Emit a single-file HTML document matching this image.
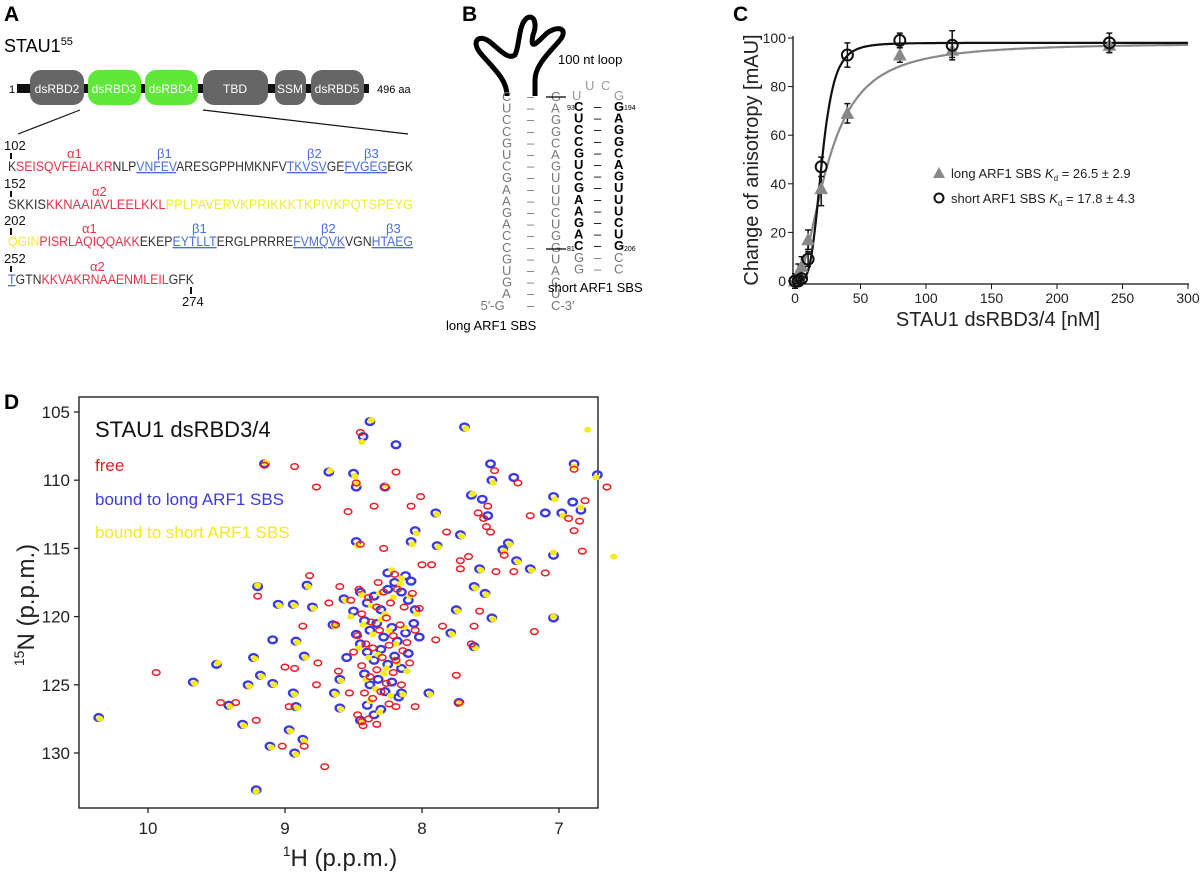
<!DOCTYPE html>
<html><head><meta charset="utf-8"><style>
body{margin:0;background:#fff}
svg{display:block}
text{font-family:"Liberation Sans",sans-serif}
.mono{font-family:"Liberation Mono",monospace}
.ser{font-family:"Liberation Serif",serif}
</style></head><body>
<svg id="fig" width="1200" height="873" viewBox="0 0 1200 873" xmlns="http://www.w3.org/2000/svg">
<!-- Panel A -->
<g>
<text x="4" y="21" font-size="21" font-weight="bold">A</text>
<text x="4" y="52" font-size="18">STAU1<tspan font-size="11" dy="-7">55</tspan></text>
<rect x="17" y="84" width="352" height="9" fill="#111"/>
<text x="9" y="93" font-size="11">1</text>
<text x="377" y="93" font-size="11">496 aa</text>
<g font-size="12" fill="#fff" text-anchor="middle">
<rect x="30" y="70" width="54" height="35" rx="11" fill="#666"/><text x="57" y="93">dsRBD2</text>
<rect x="88" y="70" width="53" height="35" rx="11" fill="#5fe83a"/><text x="114" y="93">dsRBD3</text>
<rect x="145" y="70" width="53" height="35" rx="11" fill="#5fe83a"/><text x="171" y="93">dsRBD4</text>
<rect x="203" y="70" width="65" height="35" rx="11" fill="#666"/><text x="235" y="93">TBD</text>
<rect x="275" y="70" width="31" height="35" rx="10" fill="#666"/><text x="290" y="93">SSM</text>
<rect x="311" y="70" width="53" height="35" rx="11" fill="#666"/><text x="337" y="93">dsRBD5</text>
</g>
<line x1="80" y1="110" x2="18" y2="134" stroke="#111" stroke-width="1.2"/>
<line x1="203" y1="110" x2="408" y2="134" stroke="#111" stroke-width="1.2"/>
<g font-size="13" fill="#111">
<text x="4" y="150">102</text><text x="4" y="188">152</text><text x="4" y="225">202</text><text x="4" y="263">252</text><text x="182" y="306">274</text>
</g>
<g stroke="#111" stroke-width="2"><line x1="11" y1="153" x2="11" y2="159"/><line x1="11" y1="191" x2="11" y2="197"/><line x1="11" y1="228" x2="11" y2="235"/><line x1="11" y1="266" x2="11" y2="272"/><line x1="191" y1="287" x2="191" y2="294"/></g>
<g class="ser" font-size="13">
<text x="67" y="158" fill="#e8334a">α1</text><text x="157" y="158" fill="#4a6ee0">β1</text><text x="307" y="158" fill="#4a6ee0">β2</text><text x="364" y="158" fill="#4a6ee0">β3</text>
<text x="92" y="196" fill="#e8334a">α2</text>
<text x="82" y="233" fill="#e8334a">α1</text><text x="192" y="233" fill="#4a6ee0">β1</text><text x="321" y="233" fill="#4a6ee0">β2</text><text x="386" y="233" fill="#4a6ee0">β3</text>
<text x="90" y="271" fill="#e8334a">α2</text>
</g>
<g class="mono" font-size="13.5" fill="#333">
<text x="8" y="171" textLength="405" lengthAdjust="spacingAndGlyphs">K<tspan fill="#e8334a">SEISQVFEIALKR</tspan>NLP<tspan fill="#4a6ee0" text-decoration="underline">VNFEV</tspan>ARESGPPHMKNFV<tspan fill="#4a6ee0" text-decoration="underline">TKVSV</tspan>GE<tspan fill="#4a6ee0" text-decoration="underline">FVGEG</tspan>EGK</text>
<text x="8" y="209" textLength="405" lengthAdjust="spacingAndGlyphs">SKKIS<tspan fill="#e8334a">KKNAAIAVLEELKKL</tspan><tspan fill="#f2ea3c">PPLPAVERVKPRIKKKTKPIVKPQTSPEYG</tspan></text>
<text x="8" y="246" textLength="405" lengthAdjust="spacingAndGlyphs"><tspan fill="#f2ea3c">QGIN</tspan><tspan fill="#e8334a">PISRLAQIQQAKK</tspan>EKEP<tspan fill="#4a6ee0" text-decoration="underline">EYTLLT</tspan>ERGLPRRRE<tspan fill="#4a6ee0" text-decoration="underline">FVMQVK</tspan>VGN<tspan fill="#4a6ee0" text-decoration="underline">HTAEG</tspan></text>
<text x="8" y="284" textLength="186" lengthAdjust="spacingAndGlyphs"><tspan fill="#4a6ee0" text-decoration="underline">T</tspan>GTN<tspan fill="#e8334a">KKVAKRNAAENMLEIL</tspan>GFK</text>
</g>
</g>
<!-- Panel B -->
<g>
<text x="462" y="21" font-size="21" font-weight="bold">B</text>
<path d="M507,96 C507,80 495,70 482,55 C470,42 478,33 490,42 C500,50 508,60 515,55 C520,45 518,25 527,18 C535,14 537,25 533,35 C530,50 535,45 547,33 C560,24 568,30 560,40 C550,52 535,65 535,80 L535,96" fill="none" stroke="#000" stroke-width="5" stroke-linejoin="round"/>
<text x="558" y="64" font-size="13">100 nt loop</text>
<g id="stemL" class="mono" font-size="13" fill="#777"></g>
<g id="stemS" class="mono" font-size="13"></g>
<g class="mono" font-size="13" fill="#999"><text x="585" y="90">U</text><text x="601" y="90">C</text><text x="572" y="100">U</text><text x="614" y="100">G</text></g>
<line x1="546" y1="97" x2="566" y2="97" stroke="#000" stroke-width="1.2"/>
<line x1="546" y1="249" x2="566" y2="249" stroke="#000" stroke-width="1.2"/>
<g font-size="7" class="mono"><text x="567" y="110">93</text><text x="624" y="110">194</text><text x="567" y="251">81</text><text x="624" y="251">206</text></g>
<text x="548" y="292" font-size="13">short ARF1 SBS</text>
<text x="446" y="330" font-size="13">long ARF1 SBS</text>
</g>
<!-- Panel C -->
<g id="panelC">
<text x="733" y="21" font-size="21" font-weight="bold">C</text>
</g>
<!-- Panel D -->
<g id="panelD">
<text x="4" y="409" font-size="21" font-weight="bold">D</text>
</g>
</svg>
<script>
// ---------- Panel C data ----------
const concLong = [0, 2.5, 5, 10, 20, 40, 80, 120, 240];
const anisoLong = [0, 3, 6, 17, 38, 69, 93, 95, 97];
const errLong = [3, 4, 4, 4, 7, 4, 3, 3, 3];
const concShort = [0, 2.5, 5, 10, 20, 40, 80, 120, 240];
const anisoShort = [0, 0, 1, 9, 47, 93, 99, 97, 98];
const errShort = [2, 2, 2, 3, 4, 5, 3, 6, 4];
const fitLong = [98, 25.4, 1.93];   // max, K, hill
const fitShort = [98, 20.5, 4.3];
const xTicksC = [0, 50, 100, 150, 200, 250, 300];
const yTicksC = [0, 20, 40, 60, 80, 100];
// ---------- Panel D data (ppm) ----------
const hTicks = [10, 9, 8, 7];
const nTicks = [105, 110, 115, 120, 125, 130];
const bluePeaks = [[10.36,127.4],[9.67,124.8],[9.50,123.5],[9.41,126.5],[9.31,127.9],[9.27,125.0],[9.23,123.0],[9.20,117.8],[9.21,132.7],[9.18,124.3],[9.09,124.9],[9.11,129.5],[9.15,108.8],[9.05,119.1],[9.09,121.7],[8.97,128.3],[8.94,119.1],[8.93,130.0],[8.92,126.6],[8.94,125.6],[8.87,129.0],[8.92,121.8],[8.86,122.9],[8.84,117.7],[8.80,119.3],[8.68,109.4],[8.65,120.6],[8.64,125.6],[8.60,126.7],[8.60,124.6],[8.57,118.7],[8.50,109.5],[8.48,110.5],[8.48,114.5],[8.43,106.8],[8.38,105.7],[8.27,110.5],[8.19,107.4],[8.15,125.6],[8.08,114.5],[8.05,113.7],[7.95,125.6],[7.90,112.4],[7.89,114.8],[7.79,121.2],[7.73,126.3],[7.72,114.0],[7.69,106.1],[7.75,119.5],[7.64,111.1],[7.62,122.2],[7.62,117.8],[7.58,116.5],[7.54,118.3],[7.50,108.8],[7.49,120.1],[7.49,110.0],[7.41,115.1],[7.37,114.6],[7.33,109.8],[7.31,115.9],[7.21,116.5],[7.04,115.5],[7.04,120.1],[6.89,108.8],[6.72,109.6],[7.04,111.2],[6.98,112.4],[6.84,112.2],[7.10,112.4],[6.90,111.6],[7.52,112.6],[7.56,111.4],[8.45,118.2],[8.40,119.0],[8.35,118.5],[8.30,119.5],[8.25,118.0],[8.20,117.5],[8.15,118.2],[8.10,118.8],[8.05,119.5],[8.42,120.3],[8.38,121.0],[8.33,120.5],[8.28,121.5],[8.22,120.8],[8.18,121.8],[8.12,121.2],[8.06,120.5],[8.02,121.5],[8.45,122.0],[8.40,122.6],[8.35,123.2],[8.30,122.4],[8.25,123.5],[8.20,122.9],[8.15,123.8],[8.10,122.7],[8.42,124.2],[8.38,125.0],[8.32,124.6],[8.27,125.5],[8.22,124.8],[8.17,125.9],[8.40,126.5],[8.35,127.2],[8.30,126.8],[8.45,127.6],[8.50,119.6],[8.48,121.3],[8.55,123.0],[8.12,117.0],[8.25,116.8],[8.08,117.4]];
const yellowPeaks = [[10.35,127.5],[9.66,124.9],[9.49,123.4],[9.40,126.6],[9.30,128.0],[9.26,125.1],[9.22,123.1],[9.20,117.7],[9.21,132.8],[9.17,124.4],[9.08,125.0],[9.10,129.6],[9.14,108.7],[9.04,119.2],[8.96,128.4],[8.93,119.2],[8.92,130.1],[8.91,126.7],[8.93,125.7],[8.86,129.1],[8.91,121.9],[8.85,123.0],[8.83,117.8],[8.79,119.4],[8.67,109.3],[8.64,120.7],[8.63,125.7],[8.59,126.8],[8.59,124.7],[8.56,118.8],[8.49,109.7],[8.47,110.3],[8.47,114.8],[8.44,107.2],[8.37,105.6],[8.26,110.4],[8.14,125.7],[8.07,114.7],[8.04,113.9],[7.94,125.7],[7.89,112.5],[7.88,114.9],[7.78,121.3],[7.72,126.4],[7.71,114.1],[7.68,106.2],[7.74,119.6],[7.63,111.0],[7.61,122.3],[7.61,117.9],[7.57,116.6],[7.53,118.4],[7.48,120.2],[7.48,110.2],[7.40,115.2],[7.36,114.7],[7.30,116.0],[7.20,116.6],[7.04,115.3],[7.04,120.0],[6.89,109.0],[6.73,109.8],[7.03,111.4],[6.97,112.6],[6.84,112.0],[6.79,106.3],[6.60,115.6],[8.44,118.4],[8.37,119.2],[8.31,118.3],[8.27,119.8],[8.21,118.6],[8.16,117.6],[8.09,118.5],[8.04,119.8],[8.43,120.6],[8.36,121.3],[8.30,120.2],[8.24,121.0],[8.19,122.0],[8.13,120.8],[8.46,122.3],[8.39,123.0],[8.32,122.8],[8.26,123.8],[8.18,123.4],[8.11,124.0],[8.41,124.6],[8.34,125.3],[8.28,124.2],[8.23,125.8],[8.38,126.2],[8.31,127.0],[8.44,127.8],[8.52,120.0],[8.15,117.2],[8.22,116.6]];
const redPeaks = [[9.94,124.1],[9.47,126.3],[9.36,126.3],[9.21,127.6],[9.20,118.5],[9.15,108.9],[9.02,129.5],[8.93,109.0],[8.86,129.5],[9.00,123.7],[8.93,123.8],[8.97,126.6],[8.87,120.7],[8.77,110.5],[8.76,123.4],[8.77,125.0],[8.71,131.0],[8.82,117.0],[8.68,119.0],[8.63,120.6],[8.61,124.0],[8.60,117.8],[8.54,112.3],[8.53,125.6],[8.48,110.2],[8.45,106.5],[8.45,114.7],[8.47,127.2],[8.44,127.7],[8.35,111.9],[8.27,110.5],[8.19,109.4],[8.28,115.0],[8.08,111.9],[8.01,111.2],[8.00,116.2],[7.93,116.2],[7.90,121.7],[7.82,113.8],[7.85,120.7],[7.75,124.3],[7.73,126.3],[7.72,115.9],[7.72,116.5],[7.66,115.6],[7.64,122.0],[7.62,120.7],[7.58,119.6],[7.59,112.4],[7.53,113.4],[7.52,111.9],[7.46,116.7],[7.47,109.3],[7.40,115.5],[7.33,116.7],[7.30,110.2],[7.21,112.6],[7.18,121.1],[7.10,116.8],[6.89,109.2],[6.89,113.7],[6.85,113.0],[6.83,115.2],[6.81,111.5],[6.65,110.5],[8.19,126.6],[8.05,126.6],[7.55,112.8],[7.50,113.8],[6.93,112.8],[8.46,118.0],[8.39,118.6],[8.33,119.3],[8.28,118.2],[8.23,119.0],[8.18,118.0],[8.13,119.3],[8.07,118.3],[8.44,119.8],[8.37,120.4],[8.31,121.0],[8.26,120.1],[8.21,121.4],[8.16,120.6],[8.11,121.9],[8.05,121.0],[8.47,121.4],[8.41,122.0],[8.36,122.3],[8.29,123.0],[8.24,122.1],[8.19,123.2],[8.14,122.5],[8.09,123.4],[8.44,123.6],[8.38,124.4],[8.33,123.9],[8.26,124.9],[8.21,124.1],[8.15,125.0],[8.42,125.6],[8.36,126.0],[8.30,125.5],[8.24,126.4],[8.39,127.5],[8.33,127.9],[8.43,128.0],[8.52,118.8],[8.50,122.6],[8.02,119.4],[8.20,116.9],[8.32,117.5]];
// ---------- Panel B data ----------
const longLeft = ["C","U","C","C","G","U","C","G","A","A","G","A","C","C","G","U","G","A","5′-G"];
const longRight = ["G","A","G","G","C","A","G","U","U","U","C","U","G","G","U","A","C","U","C-3′"];
const shortLeft = ["C","U","C","C","G","U","C","G","A","A","G","A","C","G","G"];
const shortRight = ["G","A","G","G","C","A","G","U","U","U","C","U","G","C","C"];

const NS = "http://www.w3.org/2000/svg";
function mk(tag, attrs, parent) {
  const e = document.createElementNS(NS, tag);
  for (const k in attrs) e.setAttribute(k, attrs[k]);
  parent.appendChild(e);
  return e;
}
// Panel B stems
const stemL = document.getElementById('stemL');
longLeft.forEach((c, i) => {
  const y = 101 + i * 11.6;
  const t = mk('text', {x: c.length > 1 ? 504 - 7.8 * (c.length - 1) : 502, y: y}, stemL);
  t.textContent = c;
  const d = mk('text', {x: 527, y: y}, stemL); d.textContent = "–";
  const r = mk('text', {x: 551, y: y}, stemL); r.textContent = longRight[i];
});
const stemS = document.getElementById('stemS');
shortLeft.forEach((c, i) => {
  const y = 111 + i * 11.6;
  const bold = i < 13;
  const col = bold ? "#000" : "#777";
  const fw = bold ? "bold" : "normal";
  const t = mk('text', {x: 574, y: y, fill: col, 'font-weight': fw}, stemS); t.textContent = c;
  const d = mk('text', {x: 594, y: y, fill: col}, stemS); d.textContent = "–";
  const r = mk('text', {x: 614, y: y, fill: col, 'font-weight': fw}, stemS); r.textContent = shortRight[i];
});

// ---------- Panel C ----------
const pc = document.getElementById('panelC');
const cx = v => 795 + v * 393 / 300;
const cy = v => 281 - v * 2.43;
mk('line', {x1: 793, y1: 36, x2: 793, y2: 284, stroke: '#111', 'stroke-width': 1.3}, pc);
mk('line', {x1: 793, y1: 284, x2: 1189, y2: 284, stroke: '#111', 'stroke-width': 1.3}, pc);
xTicksC.forEach(v => {
  const l = mk('line', {x1: cx(v), y1: 284, x2: cx(v), y2: 289, stroke: '#111'}, pc);
  
  
  const t = mk('text', {x: cx(v), y: 303, 'font-size': 14, 'text-anchor': 'middle', fill: '#222'}, pc);
  
  
  t.textContent = v;
});
yTicksC.forEach(v => {
  mk('line', {x1: 788, y1: cy(v), x2: 793, y2: cy(v), stroke: '#111'}, pc);
  const t = mk('text', {x: 786, y: cy(v) + 5, 'font-size': 14, 'text-anchor': 'end', fill: '#222'}, pc);
  
  
  t.textContent = v;
});
const xt = mk('text', {x: 998, y: 326, 'font-size': 20, 'text-anchor': 'middle', fill: '#222'}, pc);


xt.textContent = "STAU1 dsRBD3/4 [nM]";
const yt = mk('text', {x: 0, y: 0, 'font-size': 20, 'text-anchor': 'middle', fill: '#222', transform: 'translate(758,160) rotate(-90)'}, pc);


yt.textContent = "Change of anisotropy [mAU]";
function fitPath(p) {
  let d = "";
  for (let x = 0; x <= 300; x += 1) {
    const y = p[0] * Math.pow(x, p[2]) / (Math.pow(p[1], p[2]) + Math.pow(x, p[2]));
    d += (x === 0 ? "M" : "L") + cx(x).toFixed(1) + "," + cy(y).toFixed(1);
  }
  return d;
}
const fl = mk('path', {d: fitPath(fitLong), fill: 'none', stroke: '#888', 'stroke-width': 2.2}, pc);


const fs = mk('path', {d: fitPath(fitShort), fill: 'none', stroke: '#111', 'stroke-width': 2.2}, pc);


function errBar(x, y, e, col) {
  mk('line', {x1: cx(x), y1: cy(y - e), x2: cx(x), y2: cy(y + e), stroke: col, 'stroke-width': 1.5}, pc);
  mk('line', {x1: cx(x) - 3, y1: cy(y - e), x2: cx(x) + 3, y2: cy(y - e), stroke: col, 'stroke-width': 1.5}, pc);
  mk('line', {x1: cx(x) - 3, y1: cy(y + e), x2: cx(x) + 3, y2: cy(y + e), stroke: col, 'stroke-width': 1.5}, pc);
}
concLong.forEach((x, i) => {
  errBar(x, anisoLong[i], errLong[i], '#111');
  const X = cx(x), Y = cy(anisoLong[i]);
  const p = mk('path', {d: `M${X},${Y - 6}L${X + 6},${Y + 5}L${X - 6},${Y + 5}Z`, fill: '#888', stroke: '#888'}, pc);
  
  
});
concShort.forEach((x, i) => {
  errBar(x, anisoShort[i], errShort[i], '#111');
  const c = mk('circle', {cx: cx(x), cy: cy(anisoShort[i]), r: 5.5, fill: 'none', stroke: '#111', 'stroke-width': 2}, pc);
  
  
});
mk('path', {d: 'M939,167L945,178L933,178Z', fill: '#888'}, pc);
const l1 = mk('text', {x: 951, y: 178, 'font-size': 13, fill: '#222'}, pc);


l1.innerHTML = 'long ARF1 SBS <tspan font-style="italic">K</tspan><tspan font-size="8" dy="3">d</tspan><tspan dy="-3"> = 26.5 ± 2.9</tspan>';
mk('circle', {cx: 939, cy: 198, r: 4.5, fill: 'none', stroke: '#111', 'stroke-width': 2}, pc);
const l2 = mk('text', {x: 951, y: 203, 'font-size': 13, fill: '#222'}, pc);


l2.innerHTML = 'short ARF1 SBS <tspan font-style="italic">K</tspan><tspan font-size="8" dy="3">d</tspan><tspan dy="-3"> = 17.8 ± 4.3</tspan>';

// ---------- Panel D ----------
const pd = document.getElementById('panelD');
const hx = v => 148 + (10 - v) * 137;
const ny = v => 412 + (v - 105) * 13.64;
const frame = mk('rect', {x: 79, y: 397, width: 519, height: 411, fill: 'none', stroke: '#222', 'stroke-width': 1.4}, pd);


const peaks = mk('g', {}, pd);
bluePeaks.forEach(p => {
  const e = mk('ellipse', {cx: hx(p[0]), cy: ny(p[1]), rx: 4.2, ry: 3.4, fill: 'none', stroke: '#3a3ae0', 'stroke-width': 2.4}, peaks);
  
  
});
yellowPeaks.forEach(p => {
  const e = mk('ellipse', {cx: hx(p[0]), cy: ny(p[1]), rx: 3.6, ry: 3, fill: '#f5ea1c'}, peaks);
  
  
});
redPeaks.forEach(p => {
  const e = mk('ellipse', {cx: hx(p[0]), cy: ny(p[1]), rx: 3.8, ry: 2.8, fill: 'none', stroke: '#ee1c24', 'stroke-width': 1.5}, peaks);
  
  
});
hTicks.forEach(v => {
  mk('line', {x1: hx(v), y1: 808, x2: hx(v), y2: 813, stroke: '#222', 'stroke-width': 1.3}, pd);
  const t = mk('text', {x: hx(v), y: 834, 'font-size': 17, 'text-anchor': 'middle', fill: '#222'}, pd);
  
  
  t.textContent = v;
});
nTicks.forEach(v => {
  mk('line', {x1: 74, y1: ny(v), x2: 79, y2: ny(v), stroke: '#222', 'stroke-width': 1.3}, pd);
  const t = mk('text', {x: 70, y: ny(v) + 6, 'font-size': 17, 'text-anchor': 'end', fill: '#222'}, pd);
  
  
  t.textContent = v;
});
const hx2 = mk('text', {x: 340, y: 866, 'font-size': 24, 'text-anchor': 'middle', fill: '#222'}, pd);


hx2.innerHTML = '<tspan font-size="14" dy="-10">1</tspan><tspan dy="10">H (p.p.m.)</tspan>';
const ny2 = mk('text', {x: 0, y: 0, 'font-size': 24, 'text-anchor': 'middle', fill: '#222', transform: 'translate(34,605) rotate(-90)'}, pd);


ny2.innerHTML = '<tspan font-size="14" dy="-10">15</tspan><tspan dy="10">N (p.p.m.)</tspan>';
const lg = [["STAU1 dsRBD3/4", "#111", 22, 437], ["free", "#ee1c24", 17, 471], ["bound to long ARF1 SBS", "#3a3ae0", 17, 505], ["bound to short ARF1 SBS", "#f5ea1c", 17, 538]];
lg.forEach(r => {
  const t = mk('text', {x: 95, y: r[3], 'font-size': r[2], fill: r[1]}, pd);
  
  
  t.textContent = r[0];
});
</script>
</body></html>
